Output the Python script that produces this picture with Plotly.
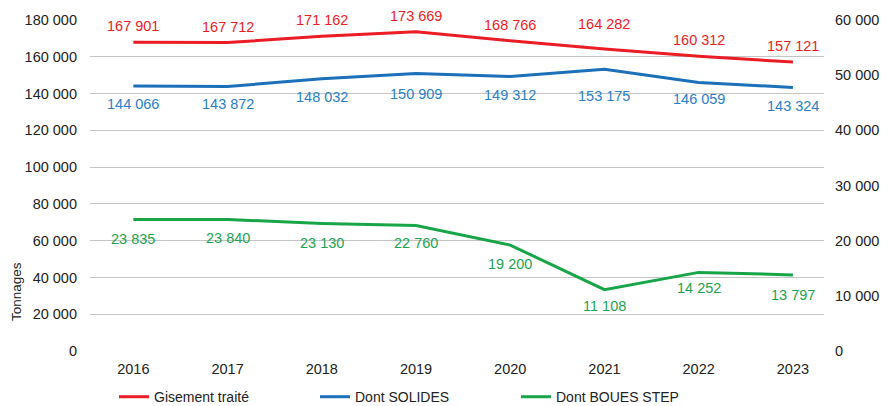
import plotly.graph_objects as go

years = [2016, 2017, 2018, 2019, 2020, 2021, 2022, 2023]
gisement = [167901, 167712, 171162, 173669, 168766, 164282, 160312, 157121]
solides = [144066, 143872, 148032, 150909, 149312, 153175, 146059, 143324]
boues = [23835, 23840, 23130, 22760, 19200, 11108, 14252, 13797]

left_ticks = [0, 20000, 40000, 60000, 80000, 100000, 120000, 140000, 160000, 180000]
right_ticks = [0, 10000, 20000, 30000, 40000, 50000, 60000]

RED = "#EC1C24"
BLUE = "#1C6FB9"
GREEN = "#18A548"
BLUE_TXT = "#2A80C8"
GREEN_TXT = "#1DA34F"
FONT = "Liberation Sans"

# label offsets in px (positive = up)
red_shift = [16, 16, 16, 16, 16, 25, 16, 16]
blue_shift = [-18, -18, -18, -20, -19, -27, -17, -19]
green_shift = [-19, -19, -20, -18, -19, -16, -16, -20]


def fmt(v):
    return f"{v:,}".replace(",", " ")


fig = go.Figure()
fig.add_trace(go.Scatter(x=years, y=gisement, mode="lines", name="Gisement traité",
                         line=dict(color=RED, width=3), yaxis="y"))
fig.add_trace(go.Scatter(x=years, y=solides, mode="lines", name="Dont SOLIDES",
                         line=dict(color=BLUE, width=3), yaxis="y"))
fig.add_trace(go.Scatter(x=years, y=boues, mode="lines", name="Dont BOUES STEP",
                         line=dict(color=GREEN, width=3), yaxis="y2"))

ann = []
for series, shifts, col, yr in [(gisement, red_shift, RED, "y"),
                                (solides, blue_shift, BLUE_TXT, "y"),
                                (boues, green_shift, GREEN_TXT, "y2")]:
    for x, v, s in zip(years, series, shifts):
        ann.append(dict(x=x, y=v, xref="x", yref=yr, text=fmt(v), showarrow=False,
                        yshift=s, font=dict(color=col, size=14.5, family=FONT)))

ann.append(dict(x=(16 - 90) / 734, y=(406 - 55 - 292) / 331, xref="paper", yref="paper",
                text="Tonnages", showarrow=False, textangle=-90, xanchor="center", yanchor="middle",
                font=dict(size=13.5, color="#222", family=FONT)))

fig.update_layout(
    width=890, height=406,
    margin=dict(l=90, r=66, t=20, b=55, autoexpand=False),
    paper_bgcolor="white", plot_bgcolor="white",
    separators=", ",
    font=dict(family=FONT, size=14.5, color="#222"),
    xaxis=dict(range=[2016 - 0.46, 2023 + 0.33], tickvals=years, ticktext=[str(y) for y in years],
               showgrid=False, zeroline=False, showline=False, ticks="", ticklen=0,
               ticklabelstandoff=7,
               automargin=False, tickfont=dict(size=14.5, color="#222")),
    yaxis=dict(range=[0, 180000], tickvals=left_ticks, tickformat=",", showgrid=True,
               gridcolor="#C4C4C4", gridwidth=1, zeroline=False, showline=False,
               ticklabelstandoff=12,
               automargin=False, ticks="", tickfont=dict(size=14.5, color="#222")),
    yaxis2=dict(range=[0, 60000], tickvals=right_ticks, tickformat=",", overlaying="y",
                side="right", showgrid=False, zeroline=False, showline=False, ticks="",
                ticklabelstandoff=10,
                automargin=False, tickfont=dict(size=14.5, color="#222")),
    legend=dict(orientation="h", x=(114 - 90) / 734, xanchor="left",
                y=-0.091, yanchor="top",
                entrywidth=156, entrywidthmode="pixels", font=dict(size=14, color="#222", family=FONT),
                bgcolor="rgba(0,0,0,0)"),
    annotations=ann,
    showlegend=True,
)

fig.write_html("out.html", config={"displayModeBar": False},
               post_script="document.body.style.margin='0px';")
